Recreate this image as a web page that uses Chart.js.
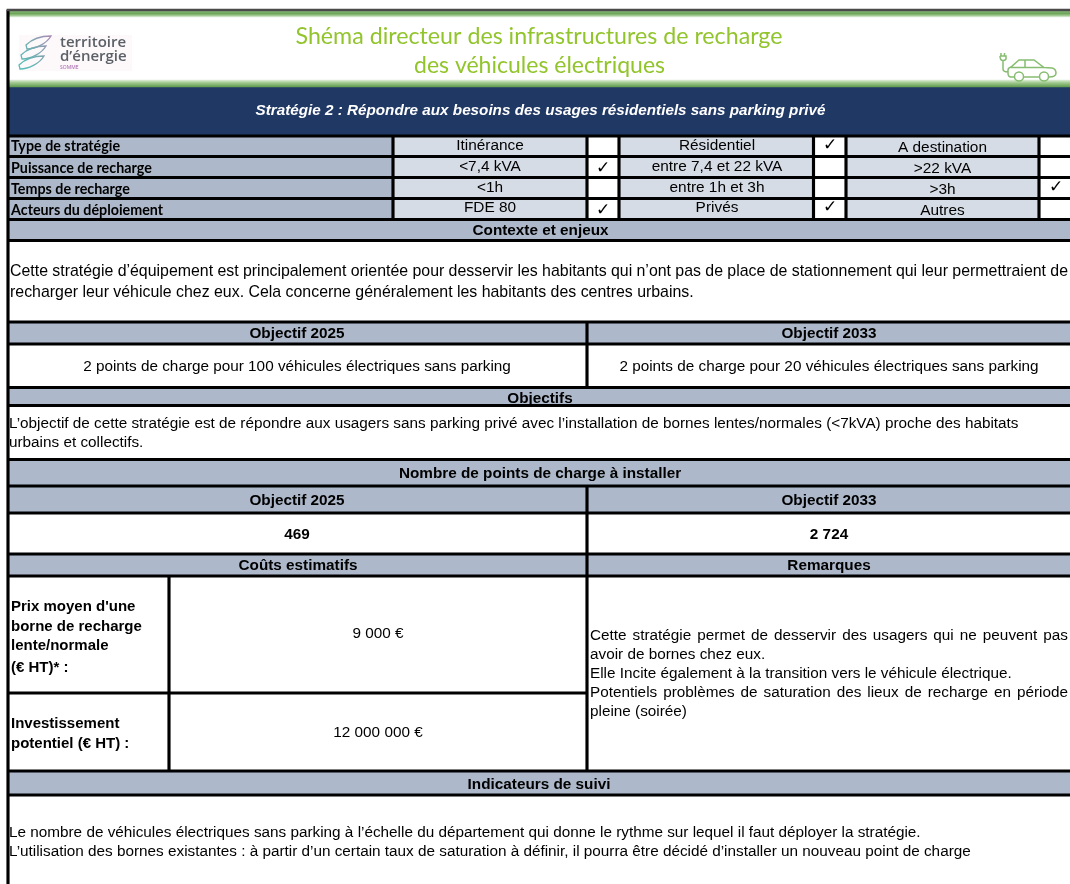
<!DOCTYPE html>
<html>
<head>
<meta charset="utf-8">
<title>Stratégie 2</title>
<script src="https://cdn.jsdelivr.net/npm/chart.js@4"></script>
<style>
    html, body { margin: 0; padding: 0; background: #fff; }
    canvas { display: block; }
</style>
</head>
<body>
<canvas id="chartStrategie" width="1070" height="884"></canvas>
<script>
// contenu du tableau
const titleLines = ['Shéma directeur des infrastructures de recharge', 'des véhicules électriques'];
const strategyTitle = 'Stratégie 2 : Répondre aux besoins des usages résidentiels sans parking privé';
const rowLabels = ['Type de stratégie', 'Puissance de recharge', 'Temps de recharge', 'Acteurs du déploiement'];
const optionsA = ['Itinérance', '<7,4 kVA', '<1h', 'FDE 80'];
const optionsB = ['Résidentiel', 'entre 7,4 et 22 kVA', 'entre 1h et 3h', 'Privés'];
const optionsC = ['A destination', '>22 kVA', '>3h', 'Autres'];
const checksA = [0, 1, 0, 1];
const checksB = [1, 0, 0, 1];
const checksC = [0, 0, 1, 0];
const objectifHeaders = ['Objectif 2025', 'Objectif 2033'];
const objectifValues = ['2 points de charge pour 100 véhicules électriques sans parking', '2 points de charge pour 20 véhicules électriques sans parking'];
const pointsValues = ['469', '2 724'];
const coutsValues = ['9 000 €', '12 000 000 €'];
const contexteLines = [
    'Cette stratégie d’équipement est principalement orientée pour desservir les habitants qui n’ont pas de place de stationnement qui leur permettraient de',
    'recharger leur véhicule chez eux. Cela concerne généralement les habitants des centres urbains.'
];
const objectifsLines = [
    'L’objectif de cette stratégie est de répondre aux usagers sans parking privé avec l’installation de bornes lentes/normales (<7kVA) proche des habitats',
    'urbains et collectifs.'
];
const prixLines = ["Prix moyen d'une", 'borne de recharge', 'lente/normale', '(€ HT)* :'];
const investLines = ['Investissement', 'potentiel (€ HT) :'];
const remarquesLines = [
    'Cette stratégie permet de desservir des usagers qui ne peuvent pas',
    'avoir de bornes chez eux.',
    'Elle Incite également à la transition vers le véhicule électrique.',
    'Potentiels problèmes de saturation des lieux de recharge en période',
    'pleine (soirée)'
];
const suiviLines = [
    'Le nombre de véhicules électriques sans parking à l’échelle du département qui donne le rythme sur lequel il faut déployer la stratégie.',
    'L’utilisation des bornes existantes : à partir d’un certain taux de saturation à définir, il pourra être décidé d’installer un nouveau point de charge'
];

// grille du tableau (axes en pixels de la page)
const X_LEFT = 8, X_RIGHT = 1070;
const colMain = 587;
const colPrix = 169;
const colOptions = [393, 587, 619, 813.5, 846, 1039];
const rowOptions = [136, 156.5, 177.5, 198.5, 219.5, 240.5];
const rowLong = [322, 344, 387.5, 405.5, 459.5, 486, 513, 554, 576, 771, 795];

const BLUE = '#adb9ca', LIGHT = '#d6dce5', NAVY = '#203864', INK = '#000000';

function cell(x0, x1, y0, y1, color, order) {
    return {
        data: [{ x: [x0, x1], y: (y0 + y1) / 2 }],
        barThickness: y1 - y0,
        backgroundColor: color,
        order: order === undefined ? 2 : order
    };
}
function ruleH(y, x0, x1) {
    return cell(x0 === undefined ? X_LEFT : x0, x1 === undefined ? X_RIGHT : x1, y - 1.25, y + 1.25, INK, 0);
}
function ruleV(x, y0, y1) {
    return cell(x - 1.25, x + 1.25, y0, y1, INK, 0);
}

const ctxStrategie = document.getElementById('chartStrategie');
const ctx2d = ctxStrategie.getContext('2d');

function bandGradient(y0, y1, stops) {
    const g = ctx2d.createLinearGradient(0, y0, 0, y1);
    stops.forEach(function (s) { g.addColorStop(s[0], s[1]); });
    return g;
}

const datasets = [
    // bandeaux verts + bandeau bleu
    cell(7, X_RIGHT, 9, 11, '#4a4a4a', 0),
    cell(X_LEFT, X_RIGHT, 11, 17, bandGradient(11, 17, [[0, '#8fbf7e'], [0.4, '#6aa356'], [0.75, '#a0c98f'], [1, '#dcecd5']])),
    cell(X_LEFT, X_RIGHT, 80, 87, bandGradient(80, 87, [[0, '#dcecd5'], [0.4, '#a0c98f'], [1, '#5f9a4e']])),
    cell(X_LEFT, X_RIGHT, 87, 136, NAVY),
    // bloc des options
    cell(X_LEFT, colOptions[0], 136, 219.5, BLUE),
    cell(colOptions[0], colOptions[1], 136, 219.5, LIGHT),
    cell(colOptions[2], colOptions[3], 136, 219.5, LIGHT),
    cell(colOptions[4], colOptions[5], 136, 219.5, LIGHT),
    // bandes de titres
    cell(X_LEFT, X_RIGHT, rowOptions[4], rowOptions[5], BLUE),
    cell(X_LEFT, X_RIGHT, rowLong[0], rowLong[1], BLUE),
    cell(X_LEFT, X_RIGHT, rowLong[2], rowLong[3], BLUE),
    cell(X_LEFT, X_RIGHT, rowLong[4], rowLong[6], BLUE),
    cell(X_LEFT, X_RIGHT, rowLong[7], rowLong[8], BLUE),
    cell(X_LEFT, X_RIGHT, rowLong[9], rowLong[10], BLUE),
    // filets
    ruleV(X_LEFT, 10, 884),
    ruleV(colMain, rowLong[0], rowLong[2]),
    ruleV(colMain, rowLong[5], rowLong[9]),
    ruleV(colPrix, rowLong[8], rowLong[9]),
    ruleH(693, X_LEFT, colMain)
];
colOptions.forEach(function (x) { datasets.push(ruleV(x, rowOptions[0], rowOptions[4])); });
rowOptions.concat(rowLong).forEach(function (y) { datasets.push(ruleH(y)); });

// ecrit un texte ; width = largeur cible (condense ou justifie)
function put(ctx, txt, x, y, font, color, align, width, justify) {
    ctx.font = font;
    ctx.fillStyle = color;
    ctx.textAlign = align || 'left';
    ctx.textBaseline = 'middle';
    ctx.wordSpacing = '0px';
    // Liberation Sans sort un peu trop haut avec 'middle'
    const yy = font.indexOf('Liberation') >= 0 ? y + 1 : y;
    if (justify) {
        const gaps = txt.split(' ').length - 1;
        ctx.wordSpacing = ((width - ctx.measureText(txt).width) / gaps) + 'px';
        ctx.fillText(txt, x, yy);
        ctx.wordSpacing = '0px';
    } else if (width) {
        ctx.fillText(txt, x, yy, width);
    } else {
        ctx.fillText(txt, x, yy);
    }
}

function drawLogo(ctx) {
    ctx.save();
    ctx.fillStyle = '#fdf9fb';
    ctx.fillRect(19, 35, 113, 36);
    const g = ctx.createLinearGradient(20, 60, 52, 38);
    g.addColorStop(0, '#57bdb8');
    g.addColorStop(0.55, '#7fa5b0');
    g.addColorStop(1, '#a98bb5');
    ctx.strokeStyle = g;
    ctx.lineWidth = 1.3;
    [[0, 0], [-5, 10], [-7, 20]].forEach(function (o) {
        ctx.beginPath();
        ctx.moveTo(26 + o[0], 45 + o[1]);
        ctx.bezierCurveTo(34 + o[0], 37 + o[1], 44 + o[0], 36 + o[1], 51 + o[0], 36 + o[1]);
        ctx.bezierCurveTo(47 + o[0], 43 + o[1], 36 + o[0], 49 + o[1], 27 + o[0], 49 + o[1]);
        ctx.closePath();
        ctx.stroke();
    });
    ctx.restore();
    put(ctx, 'territoire', 60, 43, '600 15px "Open Sans"', '#5b6066', 'left', 70);
    put(ctx, 'd’énergie', 60, 57, '600 15px "Open Sans"', '#5b6066', 'left', 73);
    put(ctx, 'SOMME', 60, 68, '5px "Open Sans"', '#a05aa8', 'left', 25);
}

function drawCar(ctx) {
    ctx.save();
    ctx.strokeStyle = '#86bd70';
    ctx.lineWidth = 1.5;
    ctx.beginPath();
    // prise + cable
    ctx.moveTo(1001, 53); ctx.lineTo(1001, 56);
    ctx.moveTo(1004.5, 53); ctx.lineTo(1004.5, 56);
    ctx.moveTo(1000, 56); ctx.lineTo(1006, 56); ctx.lineTo(1006, 59);
    ctx.quadraticCurveTo(1005, 60.5, 1003, 60.5); ctx.quadraticCurveTo(1000, 60.5, 1000, 56);
    ctx.moveTo(1003, 60.5); ctx.lineTo(1003, 69); ctx.quadraticCurveTo(1003, 72, 1008, 72);
    // carrosserie
    ctx.moveTo(1014.5, 77); ctx.lineTo(1011, 77); ctx.quadraticCurveTo(1008, 77, 1008, 73);
    ctx.lineTo(1008, 70); ctx.quadraticCurveTo(1008, 68, 1011, 67);
    ctx.lineTo(1019, 60); ctx.lineTo(1034, 60); ctx.lineTo(1044, 67.5); ctx.lineTo(1052, 68);
    ctx.quadraticCurveTo(1056, 69, 1056, 73); ctx.quadraticCurveTo(1056, 77, 1049, 77);
    ctx.moveTo(1023.5, 77); ctx.lineTo(1039.5, 77);
    ctx.moveTo(1011, 67.5); ctx.lineTo(1044, 67.5);
    ctx.moveTo(1025, 60); ctx.lineTo(1025, 67.5);
    ctx.moveTo(1023.5, 76.5); ctx.arc(1019, 76.5, 4.5, 0, Math.PI * 2);
    ctx.moveTo(1048.5, 76.5); ctx.arc(1044, 76.5, 4.5, 0, Math.PI * 2);
    ctx.stroke();
    ctx.restore();
}

const textPlugin = {
    id: 'textPlugin',
    afterDatasetsDraw: function (chart) {
        const ctx = chart.ctx;
        const AR = '"Liberation Sans"';
        const head = 'bold 15.3px ' + AR;
        const body = '15.3px ' + AR;
        const opt = '15.4px ' + AR;
        const black = '#000000';
        const tick = 'bold 17px "DejaVu Sans"';
        ctx.save();
        drawLogo(ctx);
        drawCar(ctx);

        put(ctx, titleLines[0], 539, 36, '24px Lato', '#92c42c', 'center', 487);
        put(ctx, titleLines[1], 539.5, 65, '24px Lato', '#92c42c', 'center', 251);
        put(ctx, strategyTitle, 540.5, 110, 'italic bold 15.3px ' + AR, '#ffffff', 'center', 570);

        const yA = [145, 166, 187, 207];
        const yC = [147, 168, 189, 210];
        const yL = [146.5, 168.5, 189.5, 210];
        rowLabels.forEach(function (t, i) {
            put(ctx, t, 11, yL[i], 'bold 14.3px Lato', black, 'left');
            put(ctx, optionsA[i], 490, yA[i], opt, black, 'center');
            put(ctx, optionsB[i], 717, yA[i], opt, black, 'center');
            put(ctx, optionsC[i], 942.5, yC[i], opt, black, 'center');
            if (checksA[i]) put(ctx, '✓', 603, yC[i] + 1, tick, black, 'center');
            if (checksB[i]) put(ctx, '✓', 830, yA[i] + 1, tick, black, 'center');
            if (checksC[i]) put(ctx, '✓', 1056, yA[i] + 1, tick, black, 'center');
        });

        put(ctx, 'Contexte et enjeux', 540.5, 230, head, black, 'center');
        put(ctx, contexteLines[0], 10, 271, '15.9px ' + AR, black, 'left', 1058, true);
        put(ctx, contexteLines[1], 10, 292, '15.9px ' + AR, black, 'left');

        [297, 829].forEach(function (cx, i) {
            put(ctx, objectifHeaders[i], cx, 333, head, black, 'center');
            put(ctx, objectifValues[i], cx, 366, body, black, 'center');
            put(ctx, objectifHeaders[i], cx, 500, head, black, 'center');
            put(ctx, pointsValues[i], cx, 534, head, black, 'center');
        });
        put(ctx, 'Objectifs', 540, 398, head, black, 'center');
        put(ctx, objectifsLines[0], 9, 423, body, black, 'left');
        put(ctx, objectifsLines[1], 9, 442, body, black, 'left');
        put(ctx, 'Nombre de points de charge à installer', 540, 473, head, black, 'center', 288);
        put(ctx, 'Coûts estimatifs', 298, 565, head, black, 'center');
        put(ctx, 'Remarques', 829, 565, head, black, 'center');

        const yPrix = [606, 626, 645, 667];
        const prixFont = 'bold 15px ' + AR;
        prixLines.forEach(function (t, i) { put(ctx, t, 11, yPrix[i], prixFont, black, 'left'); });
        put(ctx, investLines[0], 11, 723, prixFont, black, 'left');
        put(ctx, investLines[1], 11, 743, prixFont, black, 'left');
        put(ctx, coutsValues[0], 378, 633, body, black, 'center');
        put(ctx, coutsValues[1], 378, 732, body, black, 'center');

        const yRem = [635, 654, 673, 692, 711];
        remarquesLines.forEach(function (t, i) {
            if (i === 0 || i === 3) put(ctx, t, 590, yRem[i], body, black, 'left', 478, true);
            else put(ctx, t, 590, yRem[i], body, black, 'left');
        });

        put(ctx, 'Indicateurs de suivi', 539, 784, head, black, 'center');
        put(ctx, suiviLines[0], 9, 832, body, black, 'left');
        put(ctx, suiviLines[1], 9, 851, body, black, 'left');
        ctx.restore();
    }
};

new Chart(ctxStrategie, {
    type: 'bar',
    data: { datasets: datasets },
    options: {
        indexAxis: 'y',
        responsive: false,
        animation: false,
        events: [],
        grouped: false,
        layout: { padding: 0 },
        plugins: { legend: { display: false }, tooltip: { enabled: false }, title: { display: false } },
        scales: {
            x: { type: 'linear', display: false, min: 0, max: 1070, offset: false },
            y: { type: 'linear', display: false, min: 0, max: 884, reverse: true, offset: false }
        }
    },
    plugins: [textPlugin]
});
</script>
</body>
</html>
